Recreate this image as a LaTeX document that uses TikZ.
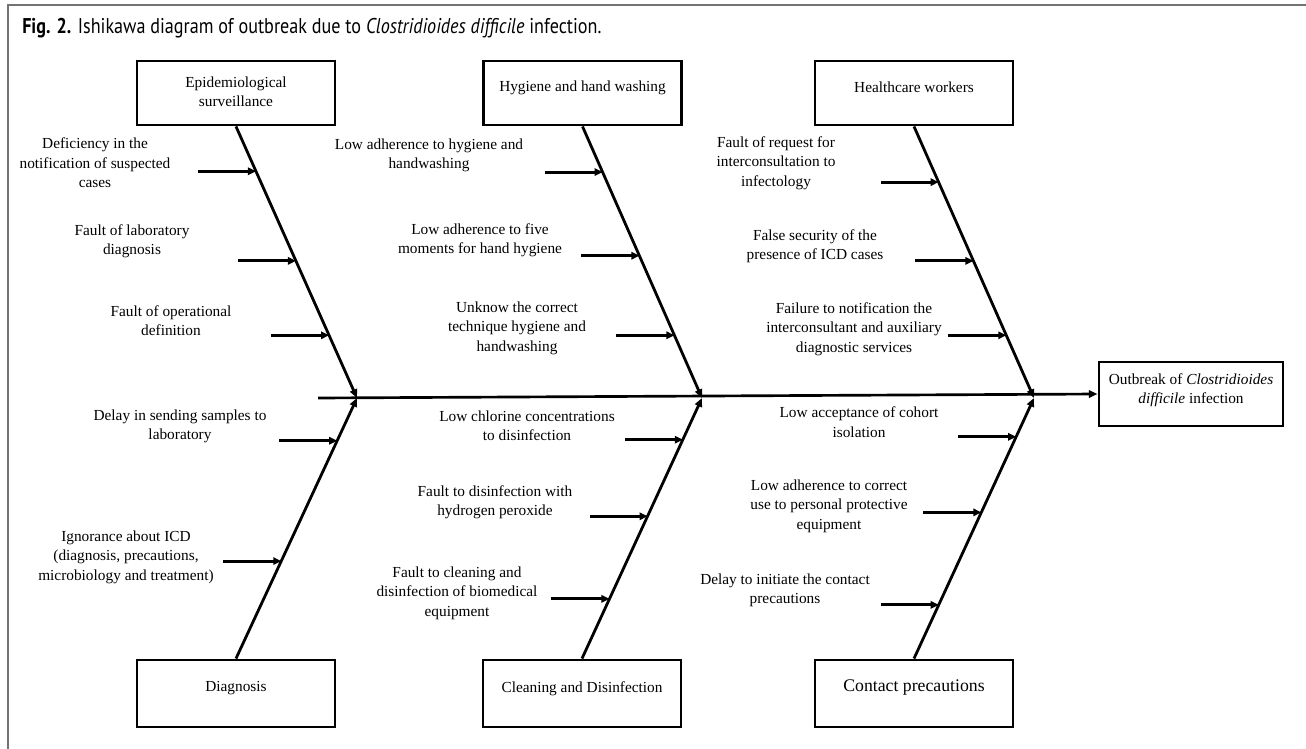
\documentclass[tikz,border=0pt]{standalone}
\usepackage{fontspec}
\setmainfont{Liberation Serif}
\newfontfamily\titlefont[FakeStretch=0.85]{PT Sans}
\usetikzlibrary{arrows.meta,calc}
\begin{document}
\begin{tikzpicture}[x=0.75pt,y=-0.75pt,
  box/.style={draw,line width=2.2pt,minimum width=148.5pt,minimum height=48pt,inner sep=0pt},
  bbox/.style={box,minimum height=50.25pt},
  lbl/.style={align=center,font=\fontsize{11.5pt}{14.6pt}\selectfont,inner sep=0pt},
  bone/.style={line width=2.1pt,-{Triangle[length=6.5pt,width=5.5pt]}},
  sub/.style={line width=2.2pt,-{Triangle[length=6pt,width=5.5pt]}},
  frame/.style={draw=black!55,line width=1.1pt}
]
\useasboundingbox (0,0) rectangle (1306,749);
% frame
\coordinate (fl) at (8,749);
\coordinate (fc) at (8,5);
\coordinate (fr) at (1306,5);
\draw[frame] (fl) -- (fc) -- (fr);
% title
\node[anchor=base west,inner sep=0pt,font=\titlefont\fontsize{16pt}{18pt}\selectfont] (title) at (22,34)
  {\textbf{Fig. 2.} Ishikawa diagram of outbreak due to \textit{Clostridioides difficile} infection.};

% boxes
\node[box] (epi) at (236,93) {};
\node[lbl] (epit) at (236,91.5) {Epidemiological\\surveillance};
\node[box] (hyg) at (582.5,93) {};
\node[lbl] (hygt) at (582.5,87.5) {Hygiene and hand washing};
\node[box] (hc) at (914,93) {};
\node[lbl] (hct) at (914,87.5) {Healthcare workers};
\node[bbox] (diag) at (236,693.5) {};
\node[lbl] (diagt) at (236,688.5) {Diagnosis};
\node[bbox] (clean) at (582,693.5) {};
\node[lbl] (cleant) at (582,688.5) {Cleaning and Disinfection};
\node[bbox] (cont) at (914,693.5) {};
\node[lbl,font=\fontsize{13.3pt}{16pt}\selectfont] (contt) at (914,688) {Contact precautions};
\node[box,minimum width=138pt] (out) at (1191,394) {};
\node[lbl] (outt) at (1191,390) {Outbreak of \textit{Clostridioides}\\\textit{difficile} infection};

% spine
\coordinate (s0) at (318,398);
\coordinate (J1) at (357,398);
\coordinate (J2) at (702,398);
\coordinate (J3) at (1034,398);
\draw[line width=2pt,-{Triangle[length=6.5pt,width=5.5pt]}] (s0) -- (out.west);

% main bones
\draw[bone] (epi.south) -- (J1);
\draw[bone] (diag.north) -- (J1);
\draw[bone] (hyg.south) -- (J2);
\draw[bone] (clean.north) -- (J2);
\draw[bone] (hc.south) -- (J3);
\draw[bone] (cont.north) -- (J3);

% sub-cause arrows
\foreach \n/\b/\j/\f in {e1/epi.south/J1/0.165, e2/epi.south/J1/0.495, e3/epi.south/J1/0.769,
                         h1/hyg.south/J2/0.168, h2/hyg.south/J2/0.476, h3/hyg.south/J2/0.769,
                         w1/hc.south/J3/0.205, w2/hc.south/J3/0.495, w3/hc.south/J3/0.769,
                         d1/diag.north/J1/0.836, d2/diag.north/J1/0.374,
                         c1/clean.north/J2/0.840, c2/clean.north/J2/0.546, c3/clean.north/J2/0.229,
                         p1/cont.north/J3/0.851, p2/cont.north/J3/0.561, p3/cont.north/J3/0.206}{
  \coordinate (\n) at ($(\b)!\f!(\j)$);
  \coordinate (\n s) at ($(\n)+(-58,0)$);
  \draw[sub] (\n s) -- (\n);
}

% labels
\node[lbl] (l1) at (95,163) {Deficiency in the\\notification of suspected\\cases};
\node[lbl] (l2) at (132,241.5) {Fault of laboratory\\diagnosis};
\node[lbl] (l3) at (171,320.5) {Fault of operational\\definition};
\node[lbl] (l4) at (429,155.5) {Low adherence to hygiene and\\handwashing};
\node[lbl] (l5) at (480,240.5) {Low adherence to five\\moments for hand hygiene};
\node[lbl] (l6) at (517,328) {Unknow the correct\\technique hygiene and\\handwashing};
\node[lbl] (l7) at (776,163) {Fault of request for\\interconsultation to\\infectology};
\node[lbl] (l8) at (815,246) {False security of the\\presence of ICD cases};
\node[lbl] (l9) at (854,329) {Failure to notification the\\interconsultant and auxiliary\\diagnostic services};
\node[lbl] (l10) at (180,426.5) {Delay in sending samples to\\laboratory};
\node[lbl] (l11) at (126,557) {Ignorance about ICD\\(diagnosis, precautions,\\microbiology and treatment)};
\node[lbl] (l12) at (527,425.5) {Low chlorine concentrations\\to disinfection};
\node[lbl] (l13) at (495,502.5) {Fault to disinfection with\\hydrogen peroxide};
\node[lbl] (l14) at (457,593) {Fault to cleaning and\\disinfection of biomedical\\equipment};
\node[lbl] (l15) at (859,422) {Low acceptance of cohort\\isolation};
\node[lbl] (l16) at (829,506) {Low adherence to correct\\use to personal protective\\equipment};
\node[lbl] (l17) at (785,590.5) {Delay to initiate the contact\\precautions};
\end{tikzpicture}
\end{document}
